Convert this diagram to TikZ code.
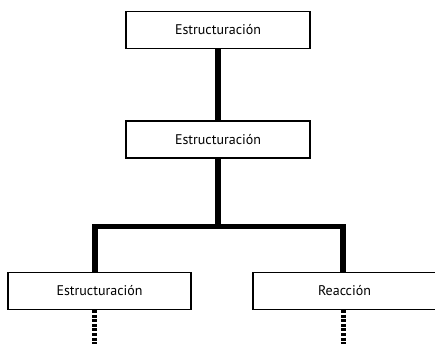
\documentclass[tikz,border=0pt]{standalone}
\usepackage{fontspec}
\setmainfont{PT Sans}
\usetikzlibrary{positioning}

\begin{document}
\begin{tikzpicture}[box/.style={rectangle, draw, line width=1.4pt, minimum width=184pt, minimum height=37pt, inner sep=0pt, font=\fontsize{14}{16}\selectfont},
  link/.style={line width=5.5pt},
  trail/.style={line width=5pt, dash pattern=on 3pt off 1.6pt}]
\useasboundingbox (-218pt,30pt) rectangle (217pt,-314pt);
\node[box]  (top) {Estructuración};
\node[box, below=71pt of top]  (mid) {Estructuración};
\node[box, minimum width=183pt, below=113pt of mid, xshift=-118.5pt] (left) {Estructuración};
\node[box, minimum width=183pt, below=113pt of mid, xshift=126.5pt] (right) {Reacción};

\coordinate[below=68pt of mid] (fork);
\coordinate (forkl) at ([xshift=-123pt]fork);
\coordinate (forkr) at ([xshift=125pt]fork);
\coordinate (endl) at ([yshift=-40pt]forkl |- left.south);
\coordinate (endr) at ([yshift=-40pt]forkr |- right.south);

\draw[link] (top) -- (mid);
\draw[link] (mid) -- (fork);
\draw[link, line join=miter] (forkl |- left.north) -- (forkl) -- (forkr) -- (forkr |- right.north);
\draw[trail] (forkl |- left.south) -- (endl);
\draw[trail] (forkr |- right.south) -- (endr);

\end{tikzpicture}
\end{document}
